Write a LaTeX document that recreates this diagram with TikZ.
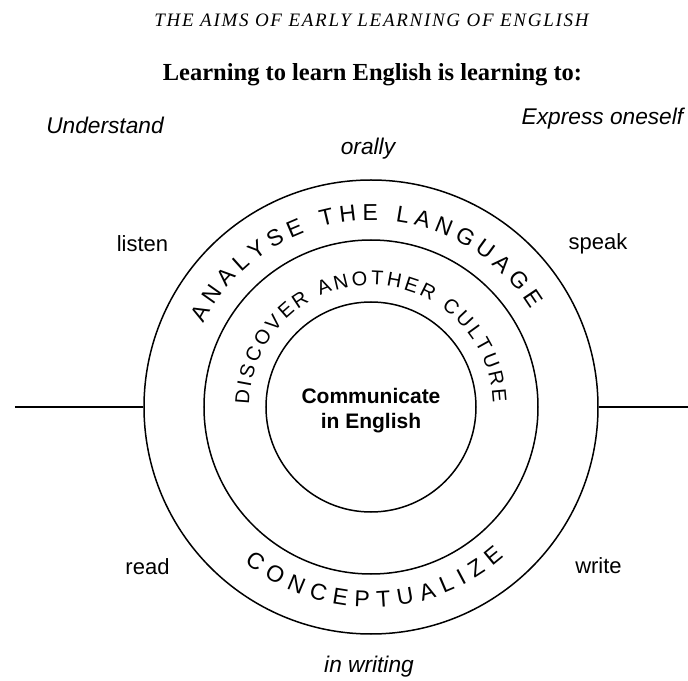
\documentclass[tikz,border=0pt]{standalone}
\usepackage{fontspec}
\setmainfont{Liberation Serif}
\setsansfont{Liberation Sans}
\newfontfamily\titlefont{Liberation Serif}[LetterSpace=9]
\usetikzlibrary{decorations.text}

\newcommand\bandfont{\sffamily\fontsize{23}{23}\selectfont}
\newcommand\innerbandfont{\sffamily\fontsize{20}{20}\selectfont}
\tikzset{
  ring/.style={circle,draw,line width=1.5pt,inner sep=0pt},
  skill/.style={font=\sffamily\fontsize{22}{22}\selectfont},
  mode/.style={font=\sffamily\itshape\fontsize{22.7}{22.7}\selectfont},
  bandtext/.style={decorate,decoration={text along path,text align={fit to path},text={#1}}}
}

\begin{document}
\begin{tikzpicture}[x=1pt,y=1pt]
\useasboundingbox (-371,-273) rectangle (317,407);
\node (title) at (0.5,387) {\titlefont\itshape\fontsize{19}{19}\selectfont THE AIMS OF EARLY LEARNING OF ENGLISH};
\node (lead) at (1.5,332) {\bfseries\fontsize{24.5}{24.5}\selectfont Learning to learn English is learning to:};
\node[mode] (under) at (-266,282) {Understand};
\node[mode] (express) at (231.5,288) {Express oneself};
\node[mode] (oral) at (-3,258) {orally};
\node[mode] (writing) at (-2,-260) {in writing};
\node[skill] (listen) at (-228.5,163) {listen};
\node[skill] (speak) at (227,163) {speak};
\node[skill] (read) at (-223.5,-160) {read};
\node[skill] (write) at (227.5,-159) {write};
% the three rings
\node[ring,minimum size=454pt] (outer) at (0,0) {};
\node[ring,minimum size=334pt] (middle) at (0,0) {};
\node[ring,minimum size=210pt] (inner) at (0,0) {};
\node[align=center,font=\sffamily\bfseries\fontsize{21}{25}\selectfont] (core) at (0,-3.5) {Communicate\\in English};
\coordinate (lend) at (-356,0);
\coordinate (rend) at (317,0);
\draw[line width=1.2pt] (lend) -- (outer.west);
\draw[line width=1.2pt] (outer.east) -- (rend);
% curved texts in the bands
\path[bandtext={|\bandfont|ANALYSE THE LANGUAGE}] (153.5:187) arc[start angle=153.5,end angle=31.5,radius=187];
\path[bandtext={|\innerbandfont|DISCOVER ANOTHER CULTURE}] (179:122) arc[start angle=179,end angle=2,radius=122];
\path[bandtext={|\bandfont|CONCEPTUALIZE}] (230.8:200.5) arc[start angle=230.8,end angle=311.5,radius=200.5];
\end{tikzpicture}
\end{document}
